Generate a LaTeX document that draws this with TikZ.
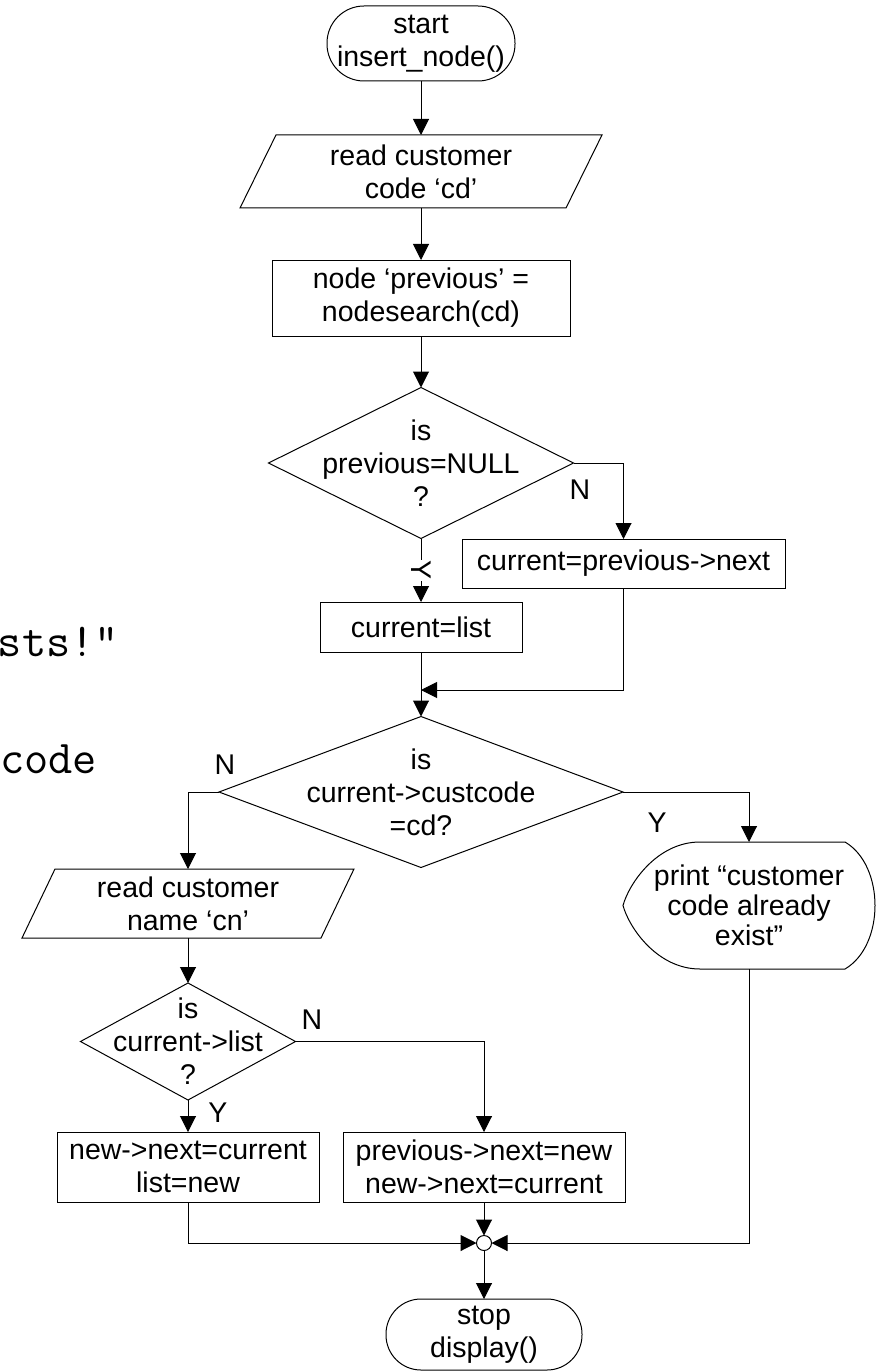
\documentclass[tikz,border=0pt]{standalone}
\usepackage{fontspec}
\setmainfont{Liberation Sans}
\usetikzlibrary{arrows.meta,calc}

\begin{document}
\begin{tikzpicture}[x=1pt,y=-1pt,
  every node/.style={font=\fontsize{28.5}{33}\selectfont, inner sep=0pt, outer sep=0pt},
  flow/.style={line width=1pt},
  arr/.style={flow, -{Triangle[length=16pt,width=16pt]}},
  box/.style 2 args={draw, line width=1pt, rectangle, minimum width=#1, minimum height=#2, align=center},
  frame/.style 2 args={rectangle, minimum width=#1, minimum height=#2, align=center},
  term/.style n args={3}{draw, line width=1pt, rectangle, rounded corners=#3, minimum width=#1, minimum height=#2, align=center},
  lbl/.style={inner sep=1pt},
  code/.style={font=\ttfamily\fontsize{47}{47}\selectfont, anchor=base east}
]
\useasboundingbox (0,0) rectangle (881,1372);

% stray program text at the left border
\node[code] (msgA) at (119,656) {sts!"};
\node[code] (msgB) at (97,773) {code};

% ---- nodes ----
\node[term={188pt}{75pt}{37pt}] (start) at (421,43.5) {start\\insert\_node()};

\node[frame={326pt}{73pt}] (p1) at (421,171.5) {read customer\\code ‘cd’};
\draw[flow] ($(p1.north west)+(18,0)$) -- ($(p1.north east)+(18,0)$)
  -- ($(p1.south east)+(-18,0)$) -- ($(p1.south west)+(-18,0)$) -- cycle;

\node[box={298pt}{76pt}] (r1) at (421,298) {node ‘previous’ =\\nodesearch(cd)};

\node[frame={305pt}{151pt}] (d1) at (421,463) {is\\previous=NULL\\?};
\draw[flow] (d1.north) -- (d1.east) -- (d1.south) -- (d1.west) -- cycle;

\node[box={323pt}{49pt}] (b2) at (623.5,563.5) {current=previous->next};
\node[box={202pt}{50pt}] (b3) at (421,627) {current=list};

\node[frame={404pt}{151pt}] (d2) at (421,792) {is\\current->custcode\\=cd?};
\draw[flow] (d2.north) -- (d2.east) -- (d2.south) -- (d2.west) -- cycle;

\node[frame={299pt}{69pt}] (p2) at (188,903.5) {read customer\\name ‘cn’};
\draw[flow] ($(p2.north west)+(16.5,0)$) -- ($(p2.north east)+(16.5,0)$)
  -- ($(p2.south east)+(-16.5,0)$) -- ($(p2.south west)+(-16.5,0)$) -- cycle;

\node[frame={253pt}{127pt}, font=\fontsize{28.5}{30}\selectfont] (disp) at (749,905.5) {print “customer\\code already\\exist”};
\draw[flow] ($(disp.center)+(-49,-63.5)$) -- ($(disp.center)+(96,-63.5)$)
  .. controls ($(disp.center)+(136,-40)$) and ($(disp.center)+(136,40)$) .. ($(disp.center)+(96,63.5)$)
  -- ($(disp.center)+(-49,63.5)$)
  .. controls ($(disp.center)+(-92,63.5)$) and ($(disp.center)+(-120,22)$) .. ($(disp.center)+(-126,0)$)
  .. controls ($(disp.center)+(-120,-22)$) and ($(disp.center)+(-92,-63.5)$) .. ($(disp.center)+(-49,-63.5)$);

\node[frame={215pt}{117pt}] (d3) at (188,1041.5) {is\\current->list\\?};
\draw[flow] (d3.north) -- (d3.east) -- (d3.south) -- (d3.west) -- cycle;

\node[box={262pt}{70pt}] (b4) at (188,1167) {new->next=current\\list=new};
\node[box={282pt}{70pt}] (b5) at (484,1167) {previous->next=new\\new->next=current};

\node[draw, line width=1pt, circle, fill=white, minimum size=15pt] (j) at (484,1243) {};

\node[term={196pt}{71pt}{35pt}] (stop) at (484,1334.5) {stop\\display()};

% ---- connectors ----
\draw[arr] (start.south) -- (p1.north);
\draw[arr] (p1.south) -- (r1.north);
\draw[arr] (r1.south) -- (d1.north);
\draw[arr] (d1.east) -| (b2.north);
\draw[arr] (d1.south) -- node[lbl, fill=white, rotate=-90] (yA) {Y} (b3.north);
\draw[arr] (b3.south) -- (d2.north);
\coordinate (m1) at (421,690);
\draw[arr] (b2.south) |- (m1);
\draw[arr] (d2.west) -| (p2.north);
\draw[arr] (d2.east) -| (disp.north);
\draw[arr] (p2.south) -- (d3.north);
\draw[arr] (d3.east) -| (b5.north);
\draw[arr] (d3.south) -- (b4.north);
\draw[arr] (b4.south) |- (j.west);
\draw[arr] (b5.south) -- (j.north);
\draw[arr] (disp.south) |- (j.east);
\draw[arr] (j.south) -- (stop.north);

% ---- branch labels ----
\node[lbl] (nA) at (580,490) {N};
\node[lbl] (nB) at (225,765) {N};
\node[lbl] (yB) at (657,823) {Y};
\node[lbl] (nC) at (312,1020) {N};
\node[lbl] (yC) at (218,1113) {Y};
\end{tikzpicture}
\end{document}
